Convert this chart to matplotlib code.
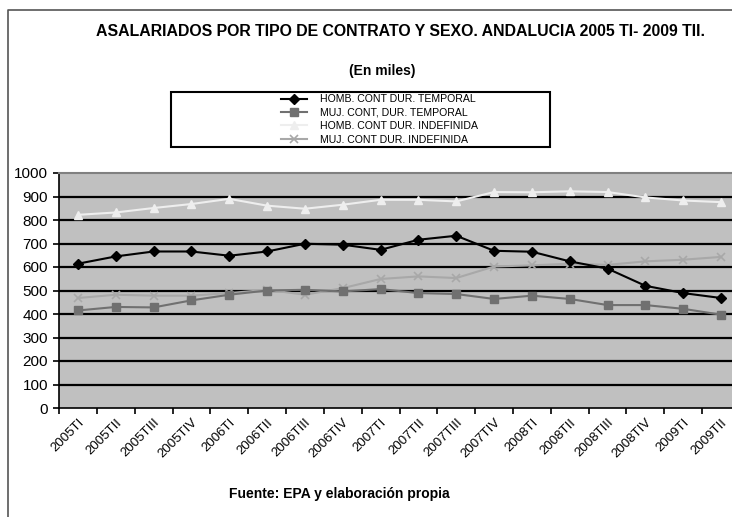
import matplotlib.pyplot as plt
from matplotlib.lines import Line2D
from matplotlib.patches import Rectangle

plt.rcParams['font.family'] = ['Liberation Sans', 'DejaVu Sans']

# trimestres
quarters = ['2005TI', '2005TII', '2005TIII', '2005TIV',
            '2006TI', '2006TII', '2006TIII', '2006TIV',
            '2007TI', '2007TII', '2007TIII', '2007TIV',
            '2008TI', '2008TII', '2008TIII', '2008TIV',
            '2009TI', '2009TII']

# miles de asalariados
homb_temporal = [614, 645, 666, 666, 648, 666, 699, 695, 673, 716, 733, 669,
                 665, 624, 593, 520, 489, 468]
muj_temporal = [415, 430, 428, 458, 482, 500, 503, 496, 506, 489, 485, 464,
                478, 464, 438, 438, 422, 397]
homb_indefinida = [822, 832, 851, 868, 890, 861, 848, 865, 886, 886, 879, 919,
                   918, 922, 919, 896, 883, 876]
muj_indefinida = [468, 482, 478, 478, 489, 503, 482, 510, 549, 560, 553, 602,
                  607, 614, 609, 624, 631, 643]

fig = plt.figure(figsize=(7.32, 5.17), dpi=100)

# marco exterior del grafico (solo se ven el borde superior e izquierdo)
fig.lines.append(Line2D([8 / 732, 8 / 732, 1], [0, 1 - 10 / 517, 1 - 10 / 517],
                        transform=fig.transFigure, color='#555555',
                        linewidth=1.2))

ax = fig.add_axes([59 / 732, 109 / 517, 681 / 732, 235 / 517])
ax.set_facecolor('#c0c0c0')

x = range(len(quarters))
ax.plot(x, homb_temporal, color='black', marker='D', markersize=5,
        linewidth=1.5, label='HOMB. CONT DUR. TEMPORAL', zorder=5)
ax.plot(x, muj_temporal, color='#707070', marker='s', markersize=6,
        linewidth=1.5, label='MUJ. CONT, DUR. TEMPORAL', zorder=4)
ax.plot(x, homb_indefinida, color='#eeeeee', marker='^', markersize=6,
        linewidth=1.5, label='HOMB. CONT DUR. INDEFINIDA', zorder=4)
ax.plot(x, muj_indefinida, color='#a8a8a8', marker='x', markersize=6,
        markeredgewidth=1.2, linewidth=1.5, label='MUJ. CONT DUR. INDEFINIDA',
        zorder=3)

ax.set_xlim(-0.5, len(quarters) - 0.5)
ax.set_ylim(0, 1000)
ax.set_yticks(range(0, 1001, 100))
ax.set_xticks([i - 0.5 for i in range(len(quarters))], minor=False)
ax.set_xticklabels([])
ax.set_xticks(list(x), minor=True)
ax.set_xticklabels(quarters, minor=True, rotation=45, ha='right',
                   rotation_mode='anchor', fontsize=9.5)
ax.tick_params(axis='x', which='minor', length=0, pad=6)
ax.tick_params(axis='x', which='major', length=4, width=1.2, direction='out')
ax.tick_params(axis='y', length=4, width=1.2, labelsize=11, pad=4)

for v in range(100, 1000, 100):
    ax.axhline(v, color='black', linewidth=1.6, zorder=1)

for side in ['top', 'right']:
    ax.spines[side].set_color('#808080')
    ax.spines[side].set_linewidth(1.5)
ax.spines['left'].set_linewidth(1.2)
ax.spines['bottom'].set_linewidth(1.2)

fig.text(400 / 732, 1 - 31 / 517, 'ASALARIADOS POR TIPO DE CONTRATO Y SEXO. ANDALUCIA 2005 TI- 2009 TII.',
         ha='center', va='center', fontsize=11.4, fontweight='bold')
fig.text(382 / 732, 1 - 71 / 517, '(En miles)', ha='center', va='center',
         fontsize=10, fontweight='bold')
fig.text(339 / 732, 1 - 494 / 517, 'Fuente: EPA y elaboración propia',
         ha='center', va='center', fontsize=10, fontweight='bold')

# caja de la leyenda
fig.patches.append(Rectangle((171 / 732, 1 - 147 / 517), 379 / 732, 55 / 517,
                             transform=fig.transFigure, facecolor='white',
                             edgecolor='black', linewidth=1.5, zorder=2))
leg = fig.legend(loc='center left', bbox_to_anchor=(276 / 732, 1 - 119.5 / 517),
                 frameon=False, fontsize=7.6, handlelength=2.4, handletextpad=1.3,
                 labelspacing=0.32, borderpad=0)
leg.set_zorder(3)

fig.savefig('out.png', dpi=100)
